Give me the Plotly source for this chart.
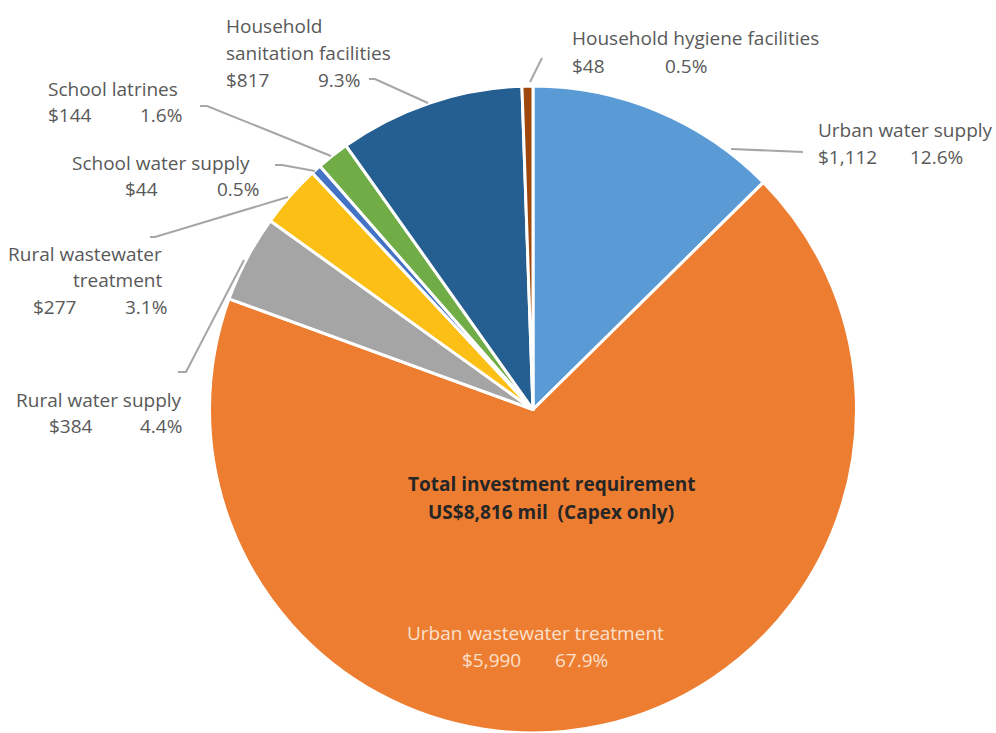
import plotly.graph_objects as go

W, H = 996, 733

categories = ["Urban water supply", "Urban wastewater treatment", "Rural water supply",
              "Rural wastewater treatment", "School water supply", "School latrines",
              "Household sanitation facilities", "Household hygiene facilities"]
values = [1112, 5990, 384, 277, 44, 144, 817, 48]
colors = ["#5B9BD5", "#ED7D31", "#A5A5A5", "#FBBF16", "#4472C4", "#70AD47", "#255E91", "#9E480E"]

total = sum(values)

def px(x):
    return x / W

def py(y):
    return 1 - y / H

fig = go.Figure(go.Pie(
    labels=categories, values=values, sort=False, direction="clockwise", rotation=0,
    marker=dict(colors=colors, line=dict(color="white", width=3)),
    textinfo="none", hoverinfo="label+value+percent", showlegend=False,
    domain=dict(x=[px(208), px(858)], y=[0, py(86)]),
))

FONT = "Open Sans"
GRAY = "#595959"
FS = 19

def val_txt(v):
    return "${:,}".format(v)

def pct_txt(v):
    return "{:.1f}%".format(100 * v / total)

layout_spec = {
    7: ([("Household hygiene facilities", 570, 38, "left")], (570, 66), (709, 66)),
    0: ([("Urban water supply", 816, 130, "left")], (816, 157), (965, 157)),
    6: ([("Household", 224, 26, "left"), ("sanitation facilities", 224, 53, "left")], (224, 80), (362, 80)),
    5: ([("School latrines", 46, 89, "left")], (46, 115), (184, 115)),
    4: ([("School water supply", 252, 163, "right")], (123, 189), (261, 189)),
    3: ([("Rural wastewater", 164, 254, "right"), ("treatment", 164, 280, "right")], (31, 307), (169, 307)),
    2: ([("Rural water supply", 184, 400, "right")], (47, 426), (184, 426)),
}

ann = []
for i, (names, vpos, ppos) in layout_spec.items():
    for t, x, y, a in names:
        ann.append(dict(text=t, x=px(x), y=py(y), xanchor=a, yanchor="middle"))
    ann.append(dict(text=val_txt(values[i]), x=px(vpos[0]), y=py(vpos[1]), xanchor="left", yanchor="middle"))
    ann.append(dict(text=pct_txt(values[i]), x=px(ppos[0]), y=py(ppos[1]), xanchor="right", yanchor="middle"))

for a in ann:
    a.update(xref="paper", yref="paper", showarrow=False, font=dict(family=FONT, size=FS, color=GRAY))

inside = [
    dict(text=categories[1], x=px(535), y=py(633), xanchor="center"),
    dict(text=val_txt(values[1]), x=px(460), y=py(660), xanchor="left"),
    dict(text=pct_txt(values[1]), x=px(610), y=py(660), xanchor="right"),
]
for a in inside:
    a.update(xref="paper", yref="paper", showarrow=False, yanchor="middle",
             font=dict(family=FONT, size=FS, color="#FBE0CC"))
ann += inside

center = [
    dict(text="<b>Total investment requirement</b>", x=px(551), y=py(484)),
    dict(text="<b>US$8,816 mil  (Capex only)</b>", x=px(551), y=py(512)),
]
for a in center:
    a.update(xref="paper", yref="paper", showarrow=False, xanchor="center", yanchor="middle",
             font=dict(family=FONT, size=19, color="#262626"))
ann += center

leaders = [
    [(530, 82), (542, 58)],
    [(731, 149), (803, 152)],
    [(428, 103), (375, 79), (369, 79)],
    [(331, 156), (207, 106), (200, 106)],
    [(315, 171), (282, 165), (275, 165)],
    [(288, 197), (155, 237), (150, 237)],
    [(244, 260), (186, 372), (178, 372)],
]
shapes = []
for pts in leaders:
    path = "M " + " L ".join("{:.5f},{:.5f}".format(px(x), py(y)) for x, y in pts)
    shapes.append(dict(type="path", path=path, xref="paper", yref="paper",
                       line=dict(color="#A6A6A6", width=2)))

fig.update_layout(width=W, height=H, margin=dict(l=0, r=0, t=0, b=0),
                  paper_bgcolor="white", plot_bgcolor="white",
                  annotations=ann, shapes=shapes)

fig.write_html("out.html", config={"displayModeBar": False},
               post_script="document.body.style.margin='0px';document.body.style.overflow='hidden';")
